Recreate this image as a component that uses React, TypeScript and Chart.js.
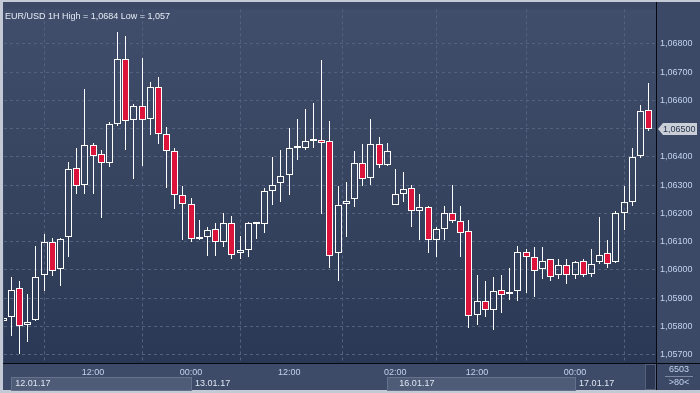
import React, { useEffect, useRef } from 'react';
import { Chart, registerables } from 'chart.js';

Chart.register(...registerables);

// ---- data (hourly candles, index 0..79) ----
const opens = [
  1.05818, 1.05832, 1.05936, 1.05804, 1.05821, 1.05981, 1.06099, 1.06002, 1.06116, 1.06359,
  1.06300, 1.06443, 1.06411, 1.06377, 1.06515, 1.06748, 1.06531, 1.06582, 1.06536, 1.06647,
  1.06481, 1.06422, 1.06266, 1.06234, 1.06116, 1.06116, 1.06144, 1.06099, 1.06165, 1.06061,
  1.06071, 1.06162, 1.06162, 1.06279, 1.06307, 1.06335, 1.06432, 1.06432, 1.06455, 1.06460,
  1.06456, 1.06061, 1.06233, 1.06252, 1.06380, 1.06325, 1.06446, 1.06370, 1.06231, 1.06269,
  1.06290, 1.06207, 1.06221, 1.06106, 1.06144, 1.06200, 1.06172, 1.06137, 1.05839, 1.05891,
  1.05856, 1.05929, 1.05916, 1.05926, 1.06064, 1.06047, 1.06002, 1.06037, 1.05981, 1.06016,
  1.05981, 1.06030, 1.05985, 1.06026, 1.06061, 1.06026, 1.06200, 1.06241, 1.06403, 1.06567,
];
const highs = [
  1.05840, 1.05974, 1.05961, 1.05915, 1.06083, 1.06128, 1.06111, 1.06112, 1.06381, 1.06433,
  1.06641, 1.06450, 1.06425, 1.06522, 1.06843, 1.06829, 1.06586, 1.06752, 1.06666, 1.06683,
  1.06505, 1.06432, 1.06297, 1.06253, 1.06176, 1.06151, 1.06165, 1.06200, 1.06189, 1.06120,
  1.06168, 1.06168, 1.06290, 1.06401, 1.06425, 1.06502, 1.06533, 1.06571, 1.06592, 1.06742,
  1.06526, 1.06297, 1.06311, 1.06422, 1.06446, 1.06533, 1.06470, 1.06450, 1.06356, 1.06345,
  1.06300, 1.06269, 1.06227, 1.06151, 1.06227, 1.06300, 1.06227, 1.06175, 1.05981, 1.05960,
  1.05974, 1.05981, 1.06005, 1.06085, 1.06075, 1.06082, 1.06082, 1.06040, 1.06037, 1.06037,
  1.06030, 1.06040, 1.06075, 1.06186, 1.06106, 1.06210, 1.06297, 1.06432, 1.06585, 1.06661,
];
const lows = [
  1.05810, 1.05765, 1.05701, 1.05744, 1.05818, 1.05926, 1.05979, 1.05944, 1.06046, 1.06267,
  1.06267, 1.06267, 1.06184, 1.06365, 1.06511, 1.06424, 1.06320, 1.06368, 1.06476, 1.06446,
  1.06290, 1.06216, 1.06105, 1.06098, 1.06106, 1.06049, 1.06049, 1.06082, 1.06039, 1.06039,
  1.06046, 1.06108, 1.06129, 1.06230, 1.06240, 1.06264, 1.06389, 1.06424, 1.06431, 1.06198,
  1.06007, 1.05962, 1.06118, 1.06221, 1.06297, 1.06300, 1.06359, 1.06366, 1.06229, 1.06240,
  1.06150, 1.06105, 1.06060, 1.06046, 1.06105, 1.06165, 1.06046, 1.05794, 1.05804, 1.05832,
  1.05787, 1.05848, 1.05893, 1.05891, 1.05917, 1.05903, 1.05969, 1.05959, 1.05969, 1.05948,
  1.05969, 1.05973, 1.05973, 1.06019, 1.06005, 1.06024, 1.06141, 1.06227, 1.06397, 1.06490,
];
const closes = [
  1.05830, 1.05929, 1.05801, 1.05815, 1.05974, 1.06099, 1.05995, 1.06109, 1.06356, 1.06297,
  1.06443, 1.06403, 1.06377, 1.06515, 1.06748, 1.06526, 1.06582, 1.06531, 1.06647, 1.06481,
  1.06422, 1.06266, 1.06234, 1.06109, 1.06109, 1.06141, 1.06099, 1.06165, 1.06054, 1.06071,
  1.06165, 1.06165, 1.06279, 1.06300, 1.06332, 1.06432, 1.06436, 1.06456, 1.06457, 1.06450,
  1.06050, 1.06231, 1.06245, 1.06377, 1.06321, 1.06446, 1.06370, 1.06422, 1.06269, 1.06286,
  1.06207, 1.06221, 1.06106, 1.06144, 1.06200, 1.06172, 1.06130, 1.05835, 1.05891, 1.05856,
  1.05926, 1.05912, 1.05918, 1.06064, 1.06047, 1.05995, 1.06030, 1.05974, 1.06016, 1.05981,
  1.06026, 1.05981, 1.06019, 1.06054, 1.06019, 1.06200, 1.06241, 1.06401, 1.06561, 1.06500,
];

const priceTicks = [1.057, 1.058, 1.059, 1.06, 1.061, 1.062, 1.063, 1.064, 1.065, 1.066, 1.067, 1.068];
const timeTickIdx = [11, 23, 35, 48, 58, 70];
const timeTickText = ['12:00', '00:00', '12:00', '02:00', '12:00', '00:00'];
const dayText = ['12.01.17', '13.01.17', '16.01.17', '17.01.17'];
const dayTextIdx = [1, 23, 48, 70];
const dayBoxFrom = [1, 23, 47, 70];
const dayBoxTo = [23, 47, 70, 79.9];
const dayBoxed = [true, false, true, false];
const titleText = 'EUR/USD 1H High = 1,0684 Low = 1,057';
const cornerTop = '6503';
const cornerBottom = '>80<';

const xMin = 0.1;
const xMax = 79.9;
const yMin = 1.056699;
const yMax = 1.069225;

const FONT = '"Liberation Sans", Arial, sans-serif';
const fmt = (v: number) => v.toFixed(5).replace('.', ',');

// snap library-computed bar geometry to the pixel grid for crisp candles
const snapPlugin = {
  id: 'snap',
  afterDatasetsUpdate(chart: any) {
    chart.data.datasets.forEach((_d: any, di: number) => {
      const meta = chart.getDatasetMeta(di);
      meta.data.forEach((el: any) => {
        el.x = Math.floor(el.x) + 0.5;
        el.y = Math.round(el.y);
        el.base = Math.round(el.base);
      });
    });
  },
};

const framePlugin = {
  id: 'frame',
  beforeDraw(chart: any) {
    const { ctx, chartArea: a, width, height } = chart;
    ctx.save();
    ctx.fillStyle = '#3b4966';
    ctx.fillRect(0, 0, width, height);
    ctx.fillStyle = '#3e4b68';
    ctx.fillRect(0, a.bottom, a.right, height - a.bottom);
    const g = ctx.createLinearGradient(0, a.top, 0, a.bottom);
    g.addColorStop(0, '#404e6c');
    g.addColorStop(0.5, '#36445f');
    g.addColorStop(1, '#2b3855');
    ctx.fillStyle = g;
    ctx.fillRect(a.left, a.top, a.right - a.left, a.bottom - a.top);
    ctx.fillStyle = '#c3cad5';
    ctx.fillRect(0, 0, 3, height);
    ctx.fillRect(0, 0, width, 2);
    ctx.fillRect(0, height - 3, width, 3);
    ctx.restore();
  },
  afterDraw(chart: any) {
    const { ctx, chartArea: a, width, height, scales } = chart;
    const xs = scales.x;
    const ys = scales.y;
    ctx.save();
    ctx.fillStyle = '#05080f';
    ctx.fillRect(3, a.bottom, width - 3, 1);
    ctx.fillRect(a.right, 2, 1, height - 5);

    ctx.font = `9px ${FONT}`;
    ctx.textBaseline = 'middle';
    ctx.textAlign = 'left';
    const rowTop = a.bottom + 14;
    const rowBot = height - 3;
    for (let i = 0; i < dayText.length; i++) {
      const x0 = Math.round(xs.getPixelForValue(dayBoxFrom[i]));
      const x1 = Math.round(xs.getPixelForValue(dayBoxTo[i]));
      if (dayBoxed[i]) {
        ctx.fillStyle = '#4f5c78';
        ctx.fillRect(x0, rowTop, x1 - x0, rowBot - rowTop);
        ctx.strokeStyle = '#66728c';
        ctx.lineWidth = 1;
        ctx.strokeRect(x0 + 0.5, rowTop + 0.5, x1 - x0, rowBot - rowTop);
      }
      ctx.fillStyle = '#dfe6f2';
      ctx.fillText(dayText[i], xs.getPixelForValue(dayTextIdx[i]) + 4, rowTop + 6.5);
    }
    ctx.fillStyle = '#2c3854';
    ctx.fillRect(a.right - 11, a.bottom + 1, 11, rowBot - a.bottom - 1);
    ctx.strokeStyle = '#55617b';
    ctx.strokeRect(a.right - 10.5, a.bottom + 1.5, 10, rowBot - a.bottom - 2);

    ctx.textAlign = 'center';
    ctx.fillStyle = '#c3d3ec';
    const cx = (a.right + width) / 2 + 1;
    ctx.fillText(cornerTop, cx, a.bottom + 7);
    ctx.fillText(cornerBottom, cx, a.bottom + 20);
    ctx.fillStyle = '#7d89a0';
    ctx.fillRect(cx - 14, a.bottom + 13, 28, 1);

    const last = closes[closes.length - 1];
    const py = Math.round(ys.getPixelForValue(last));
    const tx = a.right + 2;
    ctx.beginPath();
    ctx.moveTo(tx, py);
    ctx.lineTo(tx + 5, py - 6);
    ctx.lineTo(width - 3, py - 6);
    ctx.lineTo(width - 3, py + 6);
    ctx.lineTo(tx + 5, py + 6);
    ctx.closePath();
    ctx.fillStyle = '#c9ced7';
    ctx.fill();
    ctx.fillStyle = '#27344f';
    ctx.textAlign = 'left';
    ctx.fillText(fmt(last), tx + 5, py + 0.5);

    ctx.fillStyle = '#e6ecf5';
    ctx.textBaseline = 'alphabetic';
    ctx.fillText(titleText, a.left + 1, a.top + 10);
    ctx.restore();
  },
};

export default function App() {
  const ref = useRef<HTMLCanvasElement>(null);
  useEffect(() => {
    document.body.style.margin = '0';
    const bodyColors = opens.map((o, i) => (closes[i] < o ? '#dc143c' : 'rgba(0,0,0,0)'));
    const chart = new Chart(ref.current as HTMLCanvasElement, {
      type: 'bar',
      data: {
        datasets: [
          {
            label: 'body',
            data: opens.map((o, i) => ({ x: i, y: [o, closes[i]] })) as any,
            backgroundColor: bodyColors,
            borderColor: '#ffffff',
            borderWidth: 1,
            borderSkipped: false,
            barThickness: 7,
            minBarLength: 2,
            inflateAmount: 0,
          } as any,
          {
            label: 'wickLow',
            data: lows.map((l, i) => ({ x: i, y: [l, Math.min(opens[i], closes[i])] })) as any,
            backgroundColor: '#ffffff',
            borderWidth: 0,
            barThickness: 1,
            inflateAmount: 0,
          } as any,
          {
            label: 'wickHigh',
            data: highs.map((h, i) => ({ x: i, y: [Math.max(opens[i], closes[i]), h] })) as any,
            backgroundColor: '#ffffff',
            borderWidth: 0,
            barThickness: 1,
            inflateAmount: 0,
          } as any,
        ],
      },
      options: {
        animation: false,
        responsive: false,
        devicePixelRatio: 1,
        datasets: { bar: { grouped: false } } as any,
        layout: { padding: { left: 4, top: 2, right: 0, bottom: 3 } },
        plugins: {
          legend: { display: false },
          tooltip: { enabled: false },
          title: { display: false },
        },
        scales: {
          x: {
            type: 'linear',
            min: xMin,
            max: xMax,
            offset: false,
            afterBuildTicks: (s: any) => {
              s.ticks = timeTickIdx.map((v) => ({ value: v }));
            },
            afterFit: (s: any) => {
              s.height = 27;
            },
            ticks: {
              callback: (_v: any, i: number) => timeTickText[i],
              autoSkip: false,
              maxRotation: 0,
              color: '#c3d3ec',
              font: { family: FONT, size: 9 },
              padding: 4,
            },
            grid: { color: '#55627f', drawTicks: false, lineWidth: 1 },
            border: { display: false, dash: [3, 3] },
          },
          y: {
            type: 'linear',
            position: 'right',
            min: yMin,
            max: yMax,
            afterBuildTicks: (s: any) => {
              s.ticks = priceTicks.map((v) => ({ value: v }));
            },
            afterFit: (s: any) => {
              s.width = 44;
            },
            ticks: {
              callback: (v: any) => fmt(Number(v)),
              color: '#c3d3ec',
              font: { family: FONT, size: 9 },
              padding: 4,
            },
            grid: { color: '#55627f', drawTicks: false, lineWidth: 1 },
            border: { display: false, dash: [3, 3] },
          },
        } as any,
      },
      plugins: [snapPlugin, framePlugin],
    });
    return () => chart.destroy();
  }, []);
  return (
    <div style={{ position: 'fixed', left: 0, top: 0, width: 700, height: 393 }}>
      <canvas ref={ref} width={700} height={393} style={{ display: 'block', width: 700, height: 393 }} />
    </div>
  );
}
